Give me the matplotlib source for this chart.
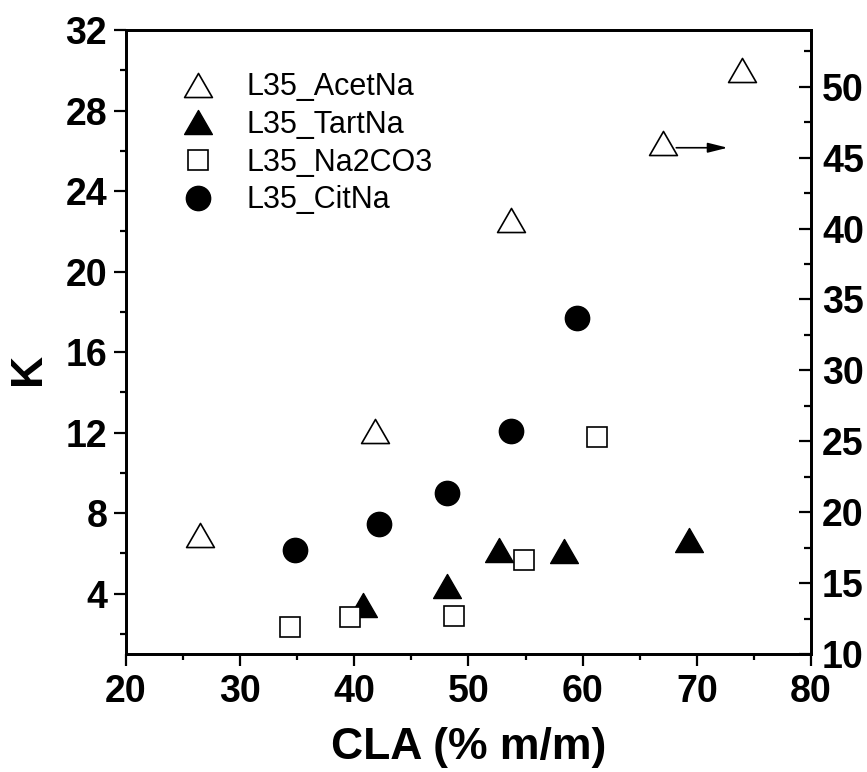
import matplotlib.pyplot as plt
from matplotlib.path import Path
from matplotlib.ticker import MultipleLocator

plt.rcParams['font.family'] = ['Liberation Sans', 'DejaVu Sans']

# data
acet_x = [26.5, 41.8, 53.7, 67.0, 74.0]
acet_y = [18.4, 25.7, 40.6, 46.0, 51.2]      # right axis

tart_x = [40.8, 48.1, 52.7, 58.4, 69.3]
tart_y = [3.45, 4.36, 6.15, 6.12, 6.68]

na2co3_x = [34.4, 39.6, 48.7, 54.9, 61.3]
na2co3_y = [2.36, 2.82, 2.91, 5.67, 11.76]

cit_x = [34.8, 42.2, 48.1, 53.7, 59.5]
cit_y = [6.18, 7.46, 8.98, 12.09, 17.69]

labels = ['L35_AcetNa', 'L35_TartNa', 'L35_Na2CO3', 'L35_CitNa']

# triangle centred on its box, like Origin draws it
tri = Path([(-1, -0.866), (1, -0.866), (0, 0.866), (-1, -0.866)],
           [Path.MOVETO, Path.LINETO, Path.LINETO, Path.CLOSEPOLY])

fig = plt.figure(figsize=(8.67, 7.72), dpi=100)
ax = fig.add_axes([0.1453, 0.1528, 0.7901, 0.8083])
ax2 = ax.twinx()

h1, = ax2.plot(acet_x, acet_y, ls='none', marker=tri, ms=20,
               mfc='white', mec='black', mew=1.2)
h2, = ax.plot(tart_x, tart_y, ls='none', marker=tri, ms=20,
              mfc='black', mec='black', mew=1.0)
h3, = ax.plot(na2co3_x, na2co3_y, ls='none', marker='s', ms=14.5,
              mfc='white', mec='black', mew=1.2)
h4, = ax.plot(cit_x, cit_y, ls='none', marker='o', ms=17.5,
              mfc='black', mec='black')

# arrow showing AcetNa uses the right axis
ax2.annotate('', xy=(72.7, 45.7), xytext=(68.2, 45.7),
             arrowprops=dict(arrowstyle='-|>,head_length=0.6,head_width=0.15',
                             color='black', lw=1.2, mutation_scale=20,
                             shrinkA=0, shrinkB=0))

ax.set_xlim(20, 80)
ax.set_ylim(1, 32)
ax2.set_ylim(10, 54)

ax.xaxis.set_major_locator(MultipleLocator(10))
ax.xaxis.set_minor_locator(MultipleLocator(5))
ax.yaxis.set_major_locator(MultipleLocator(4))
ax.yaxis.set_minor_locator(MultipleLocator(2))
ax2.yaxis.set_major_locator(MultipleLocator(5))
ax2.yaxis.set_minor_locator(MultipleLocator(2.5))

for a in (ax, ax2):
    for s in a.spines.values():
        s.set_linewidth(2)

ax.tick_params(which='major', direction='out', length=8.5, width=1.6,
               labelsize=27, top=False, right=False)
ax.tick_params(which='minor', direction='out', length=4.5, width=1.6,
               top=False, right=False)
ax.tick_params(axis='x', which='major', pad=6)
ax.tick_params(axis='y', which='major', pad=5)
ax2.tick_params(which='major', direction='in', length=9, width=1.6,
                labelsize=27, pad=8)
ax2.tick_params(which='minor', direction='in', length=5, width=1.6)

for lab in ax.get_xticklabels() + ax.get_yticklabels() + ax2.get_yticklabels():
    lab.set_fontweight('bold')

ax.set_xlabel('CLA (% m/m)', fontsize=32, fontweight='bold', va='center')
ax.xaxis.set_label_coords(0.5, -0.149)
ax.set_ylabel('K', fontsize=32, fontweight='bold', va='center')
ax.yaxis.set_label_coords(-0.143, 0.457)

ax.legend([h1, h2, h3, h4], labels, loc='upper left',
          bbox_to_anchor=(0.083, 0.932), frameon=False, fontsize=22,
          handlelength=1.0, handletextpad=1.1, labelspacing=0.25,
          borderpad=0, borderaxespad=0)

fig.savefig('out.png', dpi=100)
